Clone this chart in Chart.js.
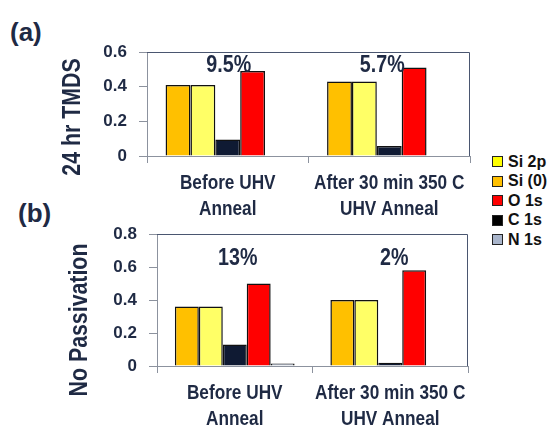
<!DOCTYPE html>
<html>
<head>
<meta charset="utf-8">
<script src="https://cdn.jsdelivr.net/npm/chart.js@4/dist/chart.umd.min.js"></script>
<style>
  html, body { margin: 0; padding: 0; background: #fff; }
  #wrap { position: relative; width: 558px; height: 427px; overflow: hidden; }
  canvas { position: absolute; left: 0; }
  #ca { top: 0; }
  #cb { top: 200px; }
  .panel { position: absolute; font: bold 26px 'Liberation Sans', Arial, sans-serif; color: #1F2A44; line-height: 30px; }
  #legend { position: absolute; left: 492px; top: 152px; font: bold 16px 'Liberation Sans', Arial, sans-serif; color: #111; }
  .item { height: 19.5px; display: flex; align-items: center; white-space: nowrap; }
  .sw { width: 9px; height: 9px; border: 1px solid #222; margin-right: 5px; }
</style>
</head>
<body>
<div id="wrap">
  <div class="panel" style="left:10px;top:17px">(a)</div>
  <div class="panel" style="left:18px;top:198px">(b)</div>
  <canvas id="ca" width="480" height="222" style="width:480px;height:222px"></canvas>
  <canvas id="cb" width="480" height="227" style="width:480px;height:227px"></canvas>
  <div id="legend"></div>
</div>
<script>
// Categories on the x axis (two lines each)
const categories = [['Before UHV', 'Anneal'], ['After 30 min 350 C', 'UHV Anneal']];

// Series, in the order the bars are drawn within each group
const seriesNames = ['Si (0)', 'Si 2p', 'C 1s', 'O 1s', 'N 1s'];
const barColors   = ['#FFC000', '#FFFF66', '#0F1A33', '#FF0000', '#A7B2C6'];

// (a) 24 hr TMDS
const tmdsSi0 = [0.41, 0.43];
const tmdsSi2p = [0.41, 0.43];
const tmdsC1s = [0.095, 0.057];
const tmdsO1s = [0.49, 0.51];
const tmdsN1s = [0, 0];

// (b) No passivation
const noPassSi0 = [0.36, 0.40];
const noPassSi2p = [0.36, 0.40];
const noPassC1s = [0.13, 0.02];
const noPassO1s = [0.50, 0.58];
const noPassN1s = [0.015, 0];

// Y tick values
const tmdsTicks = [0, 0.2, 0.4, 0.6];
const noPassTicks = [0, 0.2, 0.4, 0.6, 0.8];

// Legend entries (top to bottom)
const legendNames  = ['Si 2p', 'Si (0)', 'O 1s', 'C 1s', 'N 1s'];
const legendColors = ['#FFFF00', '#FFC000', '#FF0000', '#000000', '#A9B5CB'];

const TEXT = '#1F2A44';
const AXIS = '#8C929E';
const SANS = "'Liberation Sans', Arial, sans-serif";
const SQUEEZE = 0.82; // horizontal squeeze for the narrow-looking labels

function fmtPct(v) { return Number((v * 100).toFixed(1)) + '%'; }

// Text drawn narrower than the face's natural width
function narrowText(ctx, text, x, y, angle) {
  ctx.save();
  ctx.translate(x, y);
  if (angle) ctx.rotate(angle);
  ctx.scale(SQUEEZE, 1);
  ctx.fillText(text, 0, 0);
  ctx.restore();
}

// Top and right edges of the plot box
const frame = {
  id: 'frame',
  beforeDatasetsDraw(chart) {
    const { ctx, chartArea: a } = chart;
    ctx.save();
    ctx.strokeStyle = '#4A5670';
    ctx.lineWidth = 1;
    ctx.beginPath();
    ctx.moveTo(a.left, a.top + 0.5);
    ctx.lineTo(a.right - 0.5, a.top + 0.5);
    ctx.lineTo(a.right - 0.5, a.bottom);
    ctx.stroke();
    ctx.restore();
  }
};

// Category labels, y-axis title and the C 1s percentage above each group
const labels = {
  id: 'labels',
  afterDatasetsDraw(chart, args, opts) {
    const { ctx, chartArea: a, scales: { x, y } } = chart;
    ctx.save();
    ctx.fillStyle = TEXT;
    ctx.textAlign = 'center';
    ctx.textBaseline = 'middle';

    ctx.font = 'bold 21px ' + SANS;
    categories.forEach((lines, i) => {
      lines.forEach((t, j) => narrowText(ctx, t, x.getPixelForValue(i), a.bottom + 27 + j * 26));
    });

    ctx.font = 'bold 26px ' + SANS;
    narrowText(ctx, opts.title, opts.titleX, opts.titleY, -Math.PI / 2);

    ctx.font = 'bold 24px ' + SANS;
    opts.values.forEach((v, i) => {
      narrowText(ctx, fmtPct(v), x.getPixelForValue(i) + opts.dx[i], y.getPixelForValue(opts.at));
    });
    ctx.restore();
  }
};

function makeChart(id, series, ticks, title, cfg) {
  return new Chart(document.getElementById(id), {
    type: 'bar',
    data: {
      labels: categories,
      datasets: series.map((d, i) => ({
        label: seriesNames[i],
        data: d,
        backgroundColor: barColors[i],
        borderColor: '#111111',
        borderWidth: 1.5,
        borderSkipped: 'bottom',
        categoryPercentage: 0.77,
        barPercentage: 1
      }))
    },
    options: {
      responsive: false,
      animation: false,
      events: [],
      layout: { padding: cfg.padding },
      plugins: {
        legend: { display: false },
        tooltip: { enabled: false },
        labels: { title: title, titleX: cfg.titleX, titleY: cfg.titleY, values: series[2], at: cfg.labelAt, dx: cfg.labelDx }
      },
      scales: {
        x: {
          grid: { offset: true, drawOnChartArea: false, tickLength: 7, color: AXIS },
          border: { color: AXIS },
          ticks: { display: false },
          afterFit(s) { s.height = cfg.xHeight; }
        },
        y: {
          min: ticks[0], max: ticks[ticks.length - 1],
          afterBuildTicks(s) { s.ticks = ticks.map(v => ({ value: v })); },
          ticks: { font: { family: SANS, size: 17, weight: 'bold' }, color: TEXT, padding: 12 },
          grid: { drawOnChartArea: false, tickLength: 8, color: AXIS },
          border: { color: AXIS },
          afterFit(s) { s.width = cfg.yWidth; }
        }
      }
    },
    plugins: [frame, labels]
  });
}

makeChart('ca', [tmdsSi0, tmdsSi2p, tmdsC1s, tmdsO1s, tmdsN1s], tmdsTicks, '24 hr TMDS', {
  padding: { left: 57, top: 52, right: 10, bottom: 0 },
  yWidth: 90, xHeight: 66, titleX: 73, titleY: 117,
  labelAt: 0.52, labelDx: [1, -7]
});

makeChart('cb', [noPassSi0, noPassSi2p, noPassC1s, noPassO1s, noPassN1s], noPassTicks, 'No Passivation', {
  padding: { left: 66, top: 34, right: 12, bottom: 0 },
  yWidth: 91, xHeight: 61, titleX: 80, titleY: 120,
  labelAt: 0.655, labelDx: [3, 4]
});

// Legend
const legend = document.getElementById('legend');
legendNames.forEach((name, i) => {
  const row = document.createElement('div');
  row.className = 'item';
  const sw = document.createElement('span');
  sw.className = 'sw';
  sw.style.background = legendColors[i];
  row.appendChild(sw);
  row.appendChild(document.createTextNode(name));
  legend.appendChild(row);
});
</script>
</body>
</html>
